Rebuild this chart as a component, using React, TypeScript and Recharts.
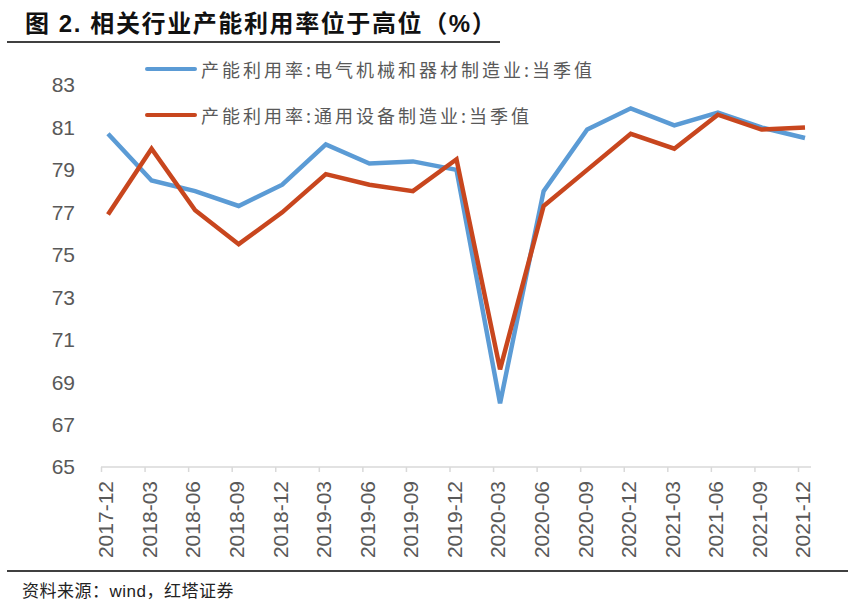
import { LineChart, Line, XAxis, YAxis } from 'recharts'

const quarters = [
  '2017-12', '2018-03', '2018-06', '2018-09', '2018-12', '2019-03', '2019-06', '2019-09', '2019-12',
  '2020-03', '2020-06', '2020-09', '2020-12', '2021-03', '2021-06', '2021-09', '2021-12',
]
// 产能利用率:电气机械和器材制造业:当季值
const electrical = [80.7, 78.5, 78.0, 77.3, 78.3, 80.2, 79.3, 79.4, 79.0, 68.0, 78.0, 80.9, 81.9, 81.1, 81.7, 81.0, 80.5]
// 产能利用率:通用设备制造业:当季值
const generalEquip = [76.9, 80.0, 77.1, 75.5, 77.0, 78.8, 78.3, 78.0, 79.5, 69.6, 77.3, 79.0, 80.7, 80.0, 81.6, 80.9, 81.0]
const yTicks = [65, 67, 69, 71, 73, 75, 77, 79, 81, 83]

const seriesNames = ['产能利用率:电气机械和器材制造业:当季值', '产能利用率:通用设备制造业:当季值']
const BLUE = '#5B9BD5'
const RED = '#C8461E'

const data = quarters.map((q, i) => ({ q, a: electrical[i], b: generalEquip[i] }))

const axisFont = '"Liberation Sans", Arial, sans-serif'
const cjkFont = '"Noto Sans CJK SC", sans-serif'

// ticks sit a little left of the points, like the original
const XTick = (props: any) => {
  const { x, y, payload } = props
  return (
    <g>
      <line x1={x - 6.5} x2={x - 6.5} y1={y} y2={y + 5} stroke="#D9D9D9" strokeWidth={1.5} />
      <text
        transform={`translate(${x - 2},${y + 14}) rotate(-90)`}
        textAnchor="end"
        dy="0.35em"
        fill="#595959"
        fontSize={21}
        fontFamily={axisFont}
      >
        {payload.value}
      </text>
    </g>
  )
}

// legend drawn as an overlay so it doesn't eat plot height
const LegendBox = () => (
  <div style={{ position: 'absolute', left: 145, top: 46 }}>
    {seriesNames.map((name, i) => (
      <div key={name} style={{ display: 'flex', alignItems: 'center', height: 46 }}>
        <svg width={52} height={10}>
          <line x1={2} x2={50} y1={5} y2={5} stroke={i === 0 ? BLUE : RED} strokeWidth={4} strokeLinecap="round" />
        </svg>
        <span style={{ fontFamily: cjkFont, fontSize: 18, color: '#595959', letterSpacing: 3, marginLeft: 4, whiteSpace: 'nowrap' }}>{name}</span>
      </div>
    ))}
  </div>
)

export default function App() {
  return (
    <div style={{ position: 'absolute', left: 0, top: 0, width: 865, height: 613, background: '#fff' }}>
      <div
        style={{
          position: 'absolute', left: 25, top: 8, fontFamily: `${axisFont}, ${cjkFont}`, fontWeight: 'bold',
          fontSize: 24, color: '#111', letterSpacing: 1.6, whiteSpace: 'nowrap', lineHeight: '32px',
        }}
      >
        图 2. 相关行业产能利用率位于高位（%）
      </div>
      <div style={{ position: 'absolute', left: 7, top: 41, width: 493, height: 1.5, background: '#404040' }} />

      <div style={{ position: 'absolute', left: 0, top: 0 }}>
        <LineChart width={865} height={567} data={data} margin={{ top: 85, right: 54, left: 0, bottom: 0 }}>
          <XAxis
            dataKey="q"
            interval={0}
            height={100}
            padding={{ left: 7, right: 6 }}
            stroke="#D9D9D9"
            strokeWidth={1.5}
            tickLine={false}
            tickSize={0}
            tickMargin={0}
            tick={<XTick />}
          />
          <YAxis
            domain={[65, 83]}
            ticks={yTicks}
            width={101}
            axisLine={false}
            tickLine={false}
            tickSize={0}
            tickMargin={26}
            tick={{ fill: '#595959', fontSize: 21, fontFamily: axisFont }}
          />
          <Line dataKey="a" name={seriesNames[0]} stroke={BLUE} strokeWidth={4.5} dot={false} isAnimationActive={false} />
          <Line dataKey="b" name={seriesNames[1]} stroke={RED} strokeWidth={4.5} dot={false} isAnimationActive={false} />
        </LineChart>
      </div>
      <LegendBox />

      <div style={{ position: 'absolute', left: 7, top: 570, width: 841, height: 1.5, background: '#404040' }} />
      <div
        style={{
          position: 'absolute', left: 22, top: 580, fontFamily: `${axisFont}, ${cjkFont}`, fontSize: 17,
          color: '#222', whiteSpace: 'nowrap', lineHeight: '24px', letterSpacing: 0.5,
        }}
      >
        资料来源：wind，红塔证券
      </div>
    </div>
  )
}
